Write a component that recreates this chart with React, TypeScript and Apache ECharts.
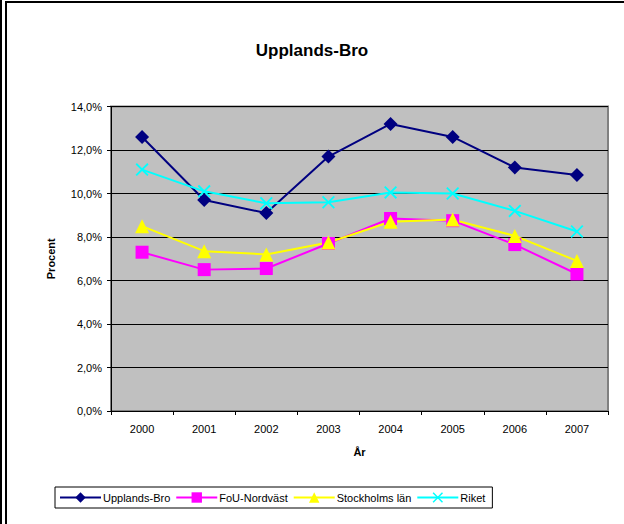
import React, { useEffect, useRef } from "react";
import * as echarts from "echarts";

const categories = ["2000", "2001", "2002", "2003", "2004", "2005", "2006", "2007"];
const upplandsBro = [12.6, 9.7, 9.1, 11.7, 13.2, 12.6, 11.2, 10.85];
const fouNordvast = [7.3, 6.5, 6.55, 7.7, 8.85, 8.75, 7.65, 6.3];
const stockholmsLan = [8.5, 7.35, 7.2, 7.75, 8.7, 8.8, 8.05, 6.9];
const riket = [11.1, 10.1, 9.55, 9.6, 10.05, 10.0, 9.2, 8.25];
const yTicks = { min: 0, max: 14, interval: 2 };

const FONT = "'Liberation Sans', Arial, sans-serif";
const X_PATH = "path://M0,1L1,0L5,4L9,0L10,1L6,5L10,9L9,10L5,6L1,10L0,9L4,5Z";

export default function App() {
  const ref = useRef<HTMLDivElement>(null);
  useEffect(() => {
    if (!ref.current) return;
    const chart = echarts.init(ref.current, undefined, { renderer: "svg" });
    const mk = (name: string, data: number[], color: string, symbol: string, size: number) => ({
      name,
      type: "line",
      data,
      symbol,
      symbolSize: size,
      lineStyle: { color, width: 2 },
      itemStyle: { color, borderWidth: 0 },
      emphasis: { disabled: true },
    });
    chart.setOption({
      animation: false,
      backgroundColor: "#ffffff",
      textStyle: { fontFamily: FONT },
      title: {
        text: "Upplands-Bro",
        left: "center",
        top: 37,
        textStyle: { fontFamily: FONT, fontSize: 17, fontWeight: "bold", color: "#000" },
      },
      grid: {
        left: 111,
        right: 16,
        top: 106.5,
        bottom: 113,
        show: true,
        backgroundColor: "#C0C0C0",
        borderColor: "#808080",
        borderWidth: 2,
      },
      legend: {
        left: 55,
        top: 487,
        itemWidth: 41,
        itemHeight: 13,
        itemGap: 5,
        padding: [5, 7, 5, 4],
        borderColor: "#000",
        borderWidth: 1,
        backgroundColor: "#fff",
        textStyle: { fontFamily: FONT, fontSize: 11, color: "#000", padding: [0, 0, 0, -3] },
        data: ["Upplands-Bro", "FoU-Nordväst", "Stockholms län", "Riket"],
      },
      xAxis: {
        type: "category",
        data: categories,
        boundaryGap: true,
        name: "År",
        nameLocation: "middle",
        nameGap: 35,
        nameTextStyle: { fontFamily: FONT, fontSize: 11, fontWeight: "bold", color: "#000" },
        axisLine: { lineStyle: { color: "#000", width: 1 } },
        axisTick: { show: true, length: 4, lineStyle: { color: "#000" } },
        axisLabel: { fontFamily: FONT, fontSize: 11, color: "#000", margin: 12 },
        splitLine: { show: false },
      },
      yAxis: {
        type: "value",
        min: yTicks.min,
        max: yTicks.max,
        interval: yTicks.interval,
        name: "Procent",
        nameLocation: "middle",
        nameGap: 55,
        nameTextStyle: { fontFamily: FONT, fontSize: 11, fontWeight: "bold", color: "#000" },
        axisLine: { show: true, lineStyle: { color: "#000", width: 1 } },
        axisTick: { show: true, length: 4, lineStyle: { color: "#000" } },
        axisLabel: {
          fontFamily: FONT,
          fontSize: 11,
          color: "#000",
          margin: 9,
          formatter: (v: number) => v.toFixed(1).replace(".", ",") + "%",
        },
        splitLine: { show: true, lineStyle: { color: "#000", width: 1 } },
      },
      graphic: [
        { type: "rect", shape: { x: 0, y: 0, width: 2, height: 524 }, style: { fill: "#000" }, silent: true },
        { type: "rect", shape: { x: 5, y: 1, width: 2, height: 523 }, style: { fill: "#000" }, silent: true },
        { type: "rect", shape: { x: 5, y: 1, width: 619, height: 2 }, style: { fill: "#000" }, silent: true },
      ],
      series: [
        mk("Upplands-Bro", upplandsBro, "#000080", "diamond", 14),
        mk("FoU-Nordväst", fouNordvast, "#FF00FF", "rect", 13),
        mk("Stockholms län", stockholmsLan, "#FFFF00", "triangle", 14),
        mk("Riket", riket, "#00FFFF", X_PATH, 13),
      ],
    });
    return () => chart.dispose();
  }, []);
  return <div ref={ref} style={{ position: "absolute", left: 0, top: 0, width: 624, height: 524 }} />;
}
